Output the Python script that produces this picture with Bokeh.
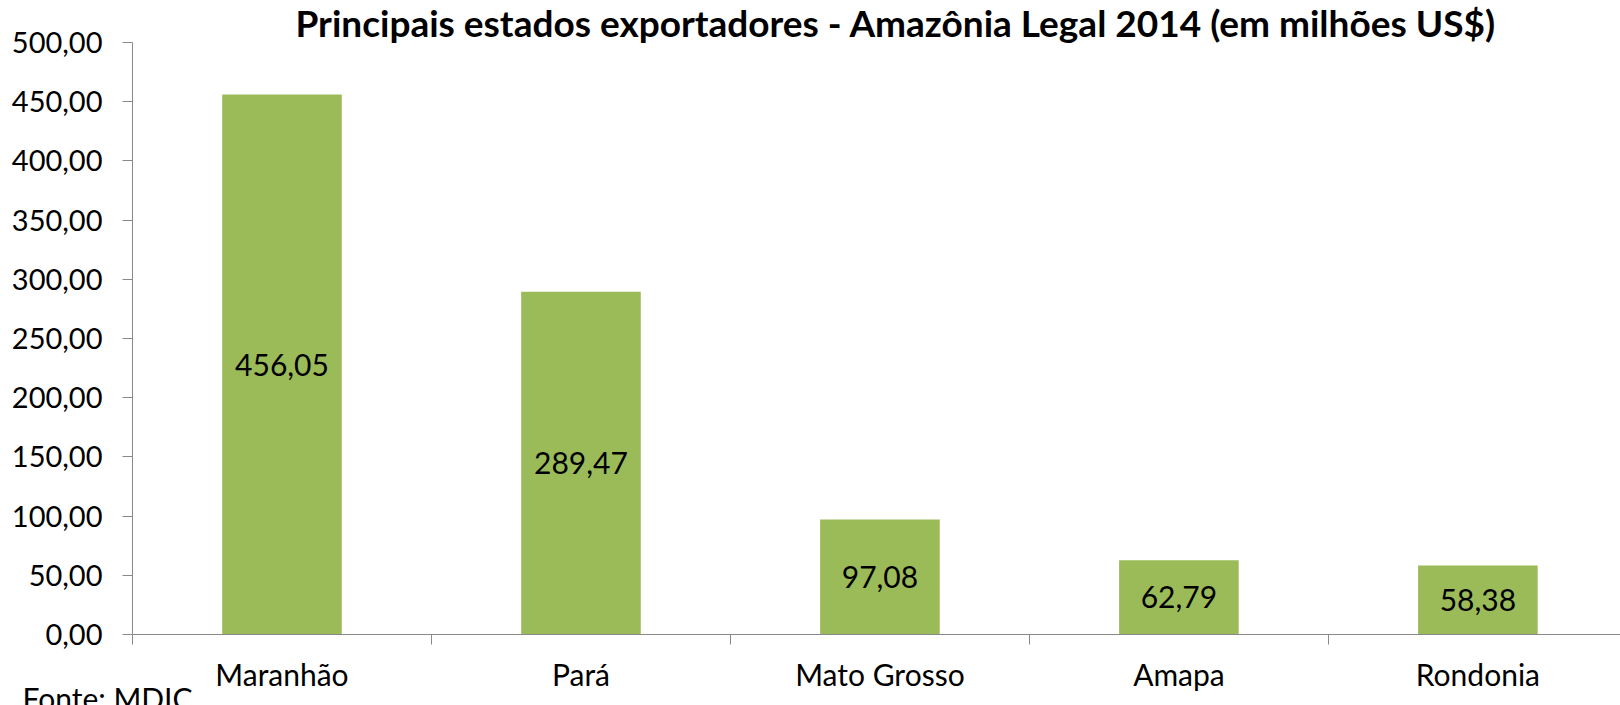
from bokeh.plotting import figure
from bokeh.models import Range1d, FixedTicker, Title, ColumnDataSource
from bokeh.core.properties import value
from bokeh.embed import file_html
from bokeh.resources import INLINE

title_text = "Principais estados exportadores - Amazônia Legal 2014 (em milhões US$)"
source_text = "Fonte: MDIC"
categories = ["Maranhão", "Pará", "Mato Grosso", "Amapa", "Rondonia"]
values = [456.05, 289.47, 97.08, 62.79, 58.38]
value_labels = ["456,05", "289,47", "97,08", "62,79", "58,38"]
y_ticks = [0, 50, 100, 150, 200, 250, 300, 350, 400, 450, 500]
y_tick_labels = ["0,00", "50,00", "100,00", "150,00", "200,00", "250,00",
                 "300,00", "350,00", "400,00", "450,00", "500,00"]

FONT = "Lato"
AXIS_COLOR = "#898989"
BAR_COLOR = "#9BBB59"

W, H = 1620, 705

centers = [i + 0.5 for i in range(len(categories))]
src = ColumnDataSource(dict(
    x=centers,
    top=values,
    mid=[v / 2 for v in values],
    lbl=value_labels,
))

p = figure(width=W, height=H, output_backend="svg", toolbar_location=None,
           x_range=Range1d(0, 4.977), y_range=Range1d(0, 500),
           min_border_left=132, min_border_right=0, min_border_top=42,
           min_border_bottom=71)
p.outline_line_color = None
p.xgrid.visible = False
p.ygrid.visible = False
p.background_fill_color = "white"
p.border_fill_color = "white"

p.title = Title(text=title_text, align="left", offset=163,
                vertical_align="top",
                text_font=FONT, text_font_size="37px", text_font_style="bold",
                text_color="black", standoff=-9)

p.vbar(x="x", top="top", width=0.4, source=src, fill_color=BAR_COLOR,
       line_color=None)
p.text(x="x", y="mid", text="lbl", source=src, text_align="center",
       text_baseline="middle", text_font=value(FONT), text_font_size="30px",
       text_color="black")

# y axis
ya = p.yaxis[0]
ya.ticker = FixedTicker(ticks=y_ticks)
ya.major_label_overrides = {t: l for t, l in zip(y_ticks, y_tick_labels)}
ya.axis_line_color = AXIS_COLOR
ya.major_tick_line_color = AXIS_COLOR
ya.major_tick_out = 10
ya.major_tick_in = 0
ya.minor_tick_line_color = None
ya.major_label_standoff = 20
ya.major_label_text_font = FONT
ya.major_label_text_font_size = "29px"
ya.major_label_text_color = "black"

# x axis
xa = p.xaxis[0]
xa.ticker = FixedTicker(ticks=centers, minor_ticks=[0, 1, 2, 3, 4])
xa.major_label_overrides = {c: n for c, n in zip(centers, categories)}
xa.axis_line_color = AXIS_COLOR
xa.major_tick_line_color = None
xa.major_tick_out = 0
xa.major_tick_in = 0
xa.minor_tick_line_color = AXIS_COLOR
xa.minor_tick_out = 10
xa.minor_tick_in = 0
xa.major_label_standoff = 11
xa.major_label_text_font = FONT
xa.major_label_text_font_size = "30px"
xa.major_label_text_color = "black"

# source note below the x axis, shifted to the left edge
p.add_layout(Title(text=source_text, align="left", offset=-110,
                   vertical_align="top", standoff=-30,
                   text_font=FONT, text_font_size="30px",
                   text_font_style="normal", text_color="black"), "below")

open("out.html", "w").write(file_html(p, INLINE))
